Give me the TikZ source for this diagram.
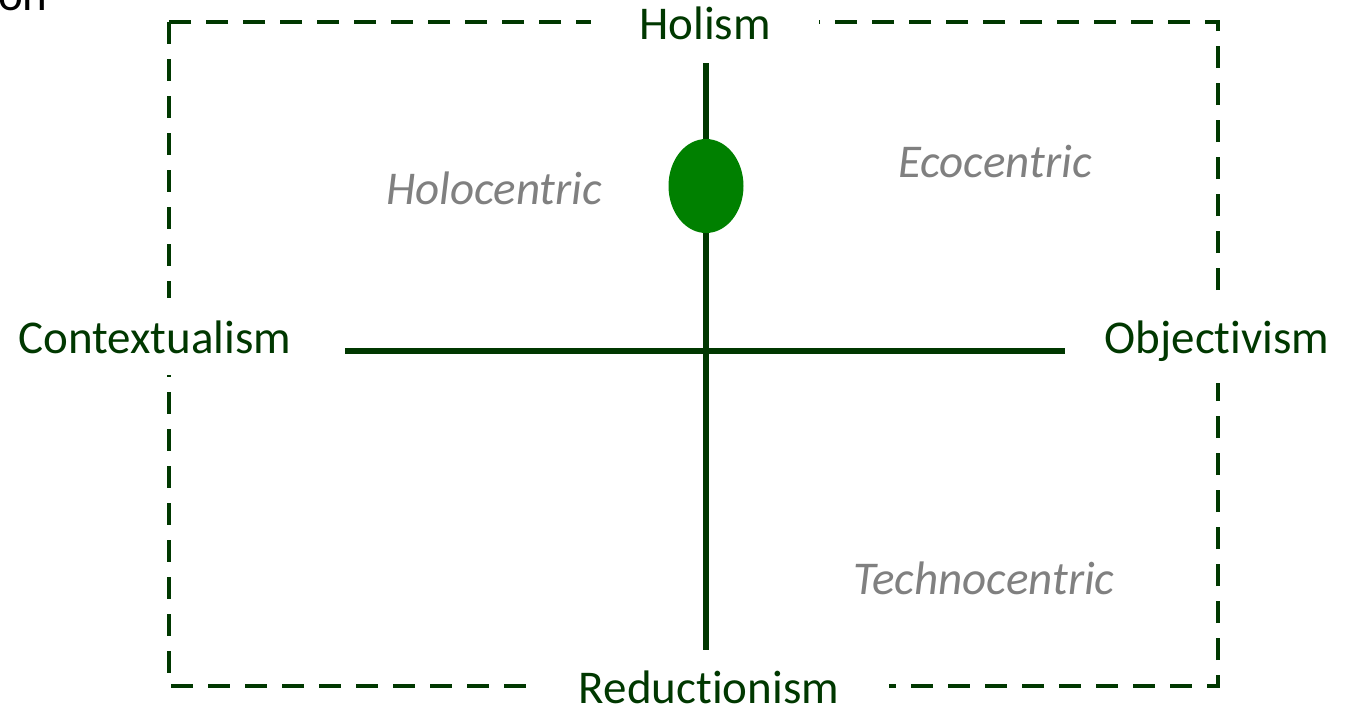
\documentclass[tikz,border=0pt]{standalone}
\usepackage{fontspec}
\setmainfont{Carlito}[Ligatures={NoCommon,NoContextual}]
\usetikzlibrary{shapes.geometric}
\definecolor{dgreen}{RGB}{0,56,0}
\definecolor{midgreen}{RGB}{0,128,0}
\definecolor{lgrey}{RGB}{128,128,128}
\tikzset{
  axislabel/.style={font=\fontsize{23.5}{28}\selectfont, text=dgreen, fill=white, anchor=base},
  quadlabel/.style={font=\fontsize{23.5}{28}\selectfont\itshape, text=lgrey, anchor=base, inner sep=0pt},
  frame/.style={draw=dgreen, line width=2.3pt, dash pattern=on 11pt off 7.5pt},
  axis/.style={draw=dgreen, line width=2.6pt},
}
\begin{document}
\begin{tikzpicture}[x=0.5pt,y=-0.5pt]
\useasboundingbox (0,0) rectangle (1350,708);
% dashed frame
\coordinate (fTL) at (169,22);
\coordinate (fBR) at (1218,686);
\draw[frame] (fTL) rectangle (fBR);
% cut-off text at top left
\node[font=\fontsize{23.5}{28}\selectfont, anchor=base east, inner sep=0pt] (cut) at (48,10) {on};
% axis labels
\node[axislabel, inner xsep=24pt, inner ysep=11pt] (hol) at (705,39) {Holism};
\node[axislabel, inner xsep=25pt, inner ysep=11pt] (red) at (709,703) {Reductionism};
\node[axislabel, inner xsep=8pt, inner ysep=11pt] (ctx) at (155,353) {Contextualism};
\node[axislabel, inner xsep=8pt, inner ysep=11pt] (obj) at (1217,353) {Objectivism};
% quadrant labels
\node[quadlabel] (holo) at (494,204) {Holocentric};
\node[quadlabel] (eco) at (995,177) {Ecocentric};
\node[quadlabel] (tech) at (984,594) {Technocentric};
% axes
\coordinate (vT) at (706,63);
\coordinate (vB) at (706,650);
\coordinate (hL) at (345,351);
\coordinate (hR) at (1065,351);
\draw[axis] (vT) -- (vB);
\draw[axis] (hL) -- (hR);
% marker
\node[ellipse, fill=midgreen, inner sep=0pt, minimum width=37.5pt, minimum height=47pt] (dot) at (706,186) {};
\end{tikzpicture}
\end{document}
